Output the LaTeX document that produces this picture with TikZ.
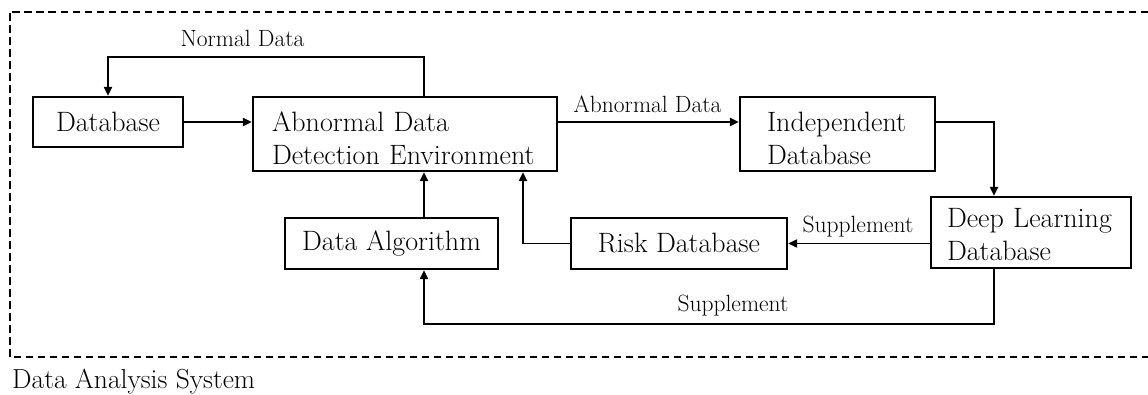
\documentclass[tikz,border=0pt]{standalone}
\usetikzlibrary{arrows.meta}
\newcommand\topstrut{\rule{0pt}{29pt}}
\newcommand\smallstrut{\rule{0pt}{23pt}}
\begin{document}
\begin{tikzpicture}[x=1pt,y=-1pt,
  box/.style={draw, line width=2.2pt, inner sep=0pt, font=\fontsize{28}{33}\selectfont},
  lbox/.style={box, align=left, inner ysep=0pt},
  conn/.style={line width=1.9pt, -{Triangle[length=9pt,width=8pt]}},
  lab/.style={font=\fontsize{23.5}{28}\selectfont, inner sep=0pt, anchor=base},
  frame/.style={line width=2pt, dash pattern=on 7.5pt off 4.5pt}
]
\useasboundingbox (0,0) rectangle (1148,395);
% frame
\draw[frame] (1148,11.7) -- (9.6,11.7) -- (9.6,357) -- (1148,357);
\node[lab, anchor=base west, font=\fontsize{27.5}{32}\selectfont] (sys) at (12,388) {Data Analysis System};

% boxes
\node[box, minimum width=150pt, minimum height=50pt] (db) at (108,122) {Database};
\node[lbox, text width=266pt, inner xsep=19pt, minimum height=74pt] (adde) at (405,134) {\topstrut\mbox{Abnormal Data}\\\mbox{Detection Environment}};
\node[lbox, text width=141pt, inner xsep=27pt, minimum height=74pt] (indep) at (837.5,134) {\topstrut\mbox{Independent}\\\mbox{Database}};
\node[lbox, text width=168pt, inner xsep=16pt, minimum height=71pt] (dl) at (1031,232.5) {\smallstrut\mbox{Deep Learning}\\\mbox{Database}};
\node[box, minimum width=216pt, minimum height=51pt] (risk) at (679,243.5) {Risk Database};
\node[box, minimum width=213pt, minimum height=51pt] (alg) at (391.5,243.5) {Data Algorithm};

% helper coordinates
\coordinate (ax) at (424,0);
\coordinate (rx) at (523,0);
\coordinate (dx) at (994,0);
\coordinate (ny) at (0,57);
\coordinate (by) at (0,324);

% connectors
\draw[conn] (db.east) -- (db.east -| adde.west);
\draw[conn] (ax |- adde.north) -- (ax |- ny) -- (db.north |- ny) -- (db.north);
\draw[conn] (adde.east |- db.east) -- (indep.west |- db.east);
\draw[conn] (indep.east |- db.east) -- (dx |- db.east) -- (dx |- dl.north);
\draw[conn] (dl.west |- risk.east) -- (risk.east);
\draw[conn] (risk.west) -- (rx |- risk.west) -- (rx |- adde.south);
\draw[conn] (alg.north -| ax) -- (ax |- adde.south);
\draw[conn] (dx |- dl.south) -- (dx |- by) -- (ax |- by) -- (ax |- alg.south);

% labels
\node[lab] (lnormal) at (242.5,46.5) {Normal Data};
\node[lab] (labn) at (647.5,113) {Abnormal Data};
\node[lab] (lsup1) at (858,233) {Supplement};
\node[lab] (lsup2) at (733,312) {Supplement};
\end{tikzpicture}
\end{document}
